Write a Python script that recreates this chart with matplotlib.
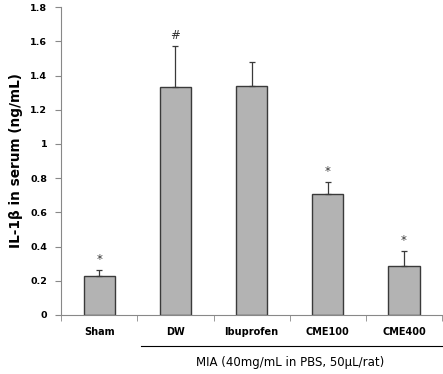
import numpy as np
import matplotlib
matplotlib.use('Agg')
from matplotlib import pyplot as plt

groups=['Sham','DW','Ibuprofen','CME100','CME400']
means=[0.225,1.33,1.34,0.705,0.285]
errs=[0.04,0.245,0.14,0.075,0.09]
marks=['*','#','','*','*']

fig=plt.figure(figsize=(4.43,3.74),dpi=100)
ax=fig.add_axes([0.138,0.158,0.86,0.823])

x=np.arange(len(groups))
ax.bar(x,means,width=0.41,color='#b3b3b3',edgecolor='#3a3a3a',linewidth=1.0,zorder=2)
ax.errorbar(x,means,yerr=[np.zeros(len(errs)),errs],fmt='none',ecolor='#3a3a3a',
            elinewidth=0.9,capsize=2.5,capthick=0.9,zorder=3)
for i,m in enumerate(marks):
    if m:
        ax.text(x[i],means[i]+errs[i]+0.06,m,ha='center',va='center',fontsize=8.5,color='#333333')

ax.set_xlim(-0.5,len(groups)-0.5)
ax.set_ylim(0,1.8)
ax.set_yticks(np.arange(0,1.81,0.2))
ax.set_yticklabels(['0','0.2','0.4','0.6','0.8','1','1.2','1.4','1.6','1.8'],fontsize=6.8,fontweight='bold')
ax.set_xticks(x)
ax.set_xticklabels(groups,fontsize=7,fontweight='bold')
ax.tick_params(axis='x',length=0,pad=9)
ax.set_xticks(np.arange(-0.5,len(groups),1),minor=True)
ax.tick_params(axis='x',which='minor',length=4,color='#888888',direction='out')
ax.tick_params(axis='y',length=4,color='#888888',direction='out',pad=6)
for s in ['top','right']:
    ax.spines[s].set_visible(False)
ax.spines['left'].set_color('#888888')
ax.spines['bottom'].set_color('#888888')
ax.set_ylabel('IL-1\u03b2 in serum (ng/mL)',fontsize=9.8,fontweight='bold',labelpad=5)

# bracket line under MIA groups
ax.plot([0.55,4.5],[-0.18,-0.18],color='black',linewidth=0.8,clip_on=False)
ax.text(2.5,-0.28,'MIA (40mg/mL in PBS, 50\u03bcL/rat)',ha='center',va='center',fontsize=8.5)

plt.savefig('out.png',dpi=100)
